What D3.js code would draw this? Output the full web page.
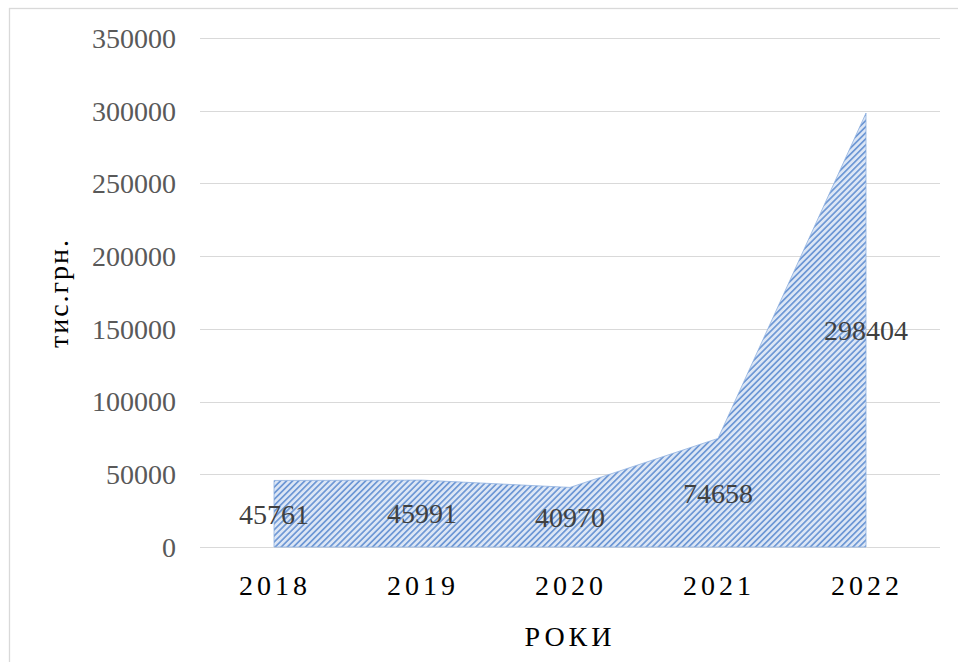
<!DOCTYPE html>
<meta charset="utf-8">
<style>
body { margin: 0; background: #fff; }
svg { display: block; }
.grid line { stroke: #d9d9d9; stroke-width: 1.3px; shape-rendering: crispEdges; }
.ytick { font: 28px "Liberation Serif", "Times New Roman", serif; fill: #595959; }
.xtick { font: 28px "Liberation Serif", "Times New Roman", serif; fill: #000; letter-spacing: 4px; }
.dlabel { font: 28px "Liberation Serif", "Times New Roman", serif; fill: #404040; }
.atitle { font: 28px "Liberation Serif", "Times New Roman", serif; fill: #000; }
</style>
<body>
<script src="https://d3js.org/d3.v7.min.js"></script>
<script>

var years = ["2018", "2019", "2020", "2021", "2022"];
var values = [45761, 45991, 40970, 74658, 298404];
var yTicks = [0, 50000, 100000, 150000, 200000, 250000, 300000, 350000];

var width = 958, height = 662;
var plot = {left: 200, right: 940, top: 38, bottom: 547};

var svg = d3.select("body").append("svg")
	.attr("width", width)
	.attr("height", height);

// outer chart border
svg.append("rect")
	.attr("x", 9.5).attr("y", 8.5)
	.attr("width", width + 20).attr("height", height + 20)
	.attr("fill", "none")
	.attr("stroke", "#d9d9d9")
	.attr("stroke-width", 1.3);

var x = d3.scaleBand()
	.domain(years)
	.range([plot.left, plot.right]);

var y = d3.scaleLinear()
	.domain([0, 350000])
	.range([plot.bottom, plot.top]);

// striped fill
var defs = svg.append("defs");
var pat = defs.append("pattern")
	.attr("id", "stripes")
	.attr("patternUnits", "userSpaceOnUse")
	.attr("width", 4.3).attr("height", 4.3)
	.attr("patternTransform", "rotate(45)");
pat.append("rect").attr("width", 4.3).attr("height", 4.3).attr("fill", "#dce6f5");
pat.append("rect").attr("width", 1.7).attr("height", 4.3).attr("fill", "#6e98d5");

// gridlines
svg.append("g").attr("class", "grid")
	.selectAll("line")
	.data(yTicks)
	.enter().append("line")
	.attr("x1", plot.left).attr("x2", plot.right)
	.attr("y1", function(d) { return Math.round(y(d)) + 0.5; })
	.attr("y2", function(d) { return Math.round(y(d)) + 0.5; });

// y tick labels
svg.selectAll(".ytick")
	.data(yTicks)
	.enter().append("text")
	.attr("class", "ytick")
	.attr("x", 176)
	.attr("y", function(d) { return y(d); })
	.attr("dy", "0.35em")
	.attr("text-anchor", "end")
	.text(function(d) { return d; });

var cx = function(d) { return x(d) + x.bandwidth() / 2; };

var area = d3.area()
	.x(function(d, i) { return cx(years[i]); })
	.y0(y(0))
	.y1(function(d) { return y(d); });

svg.append("path")
	.datum(values)
	.attr("d", area)
	.attr("fill", "url(#stripes)")
	.attr("stroke", "#8eb0e0")
	.attr("stroke-width", 0.8);

// data labels, centred in the area
svg.selectAll(".dlabel")
	.data(values)
	.enter().append("text")
	.attr("class", "dlabel")
	.attr("x", function(d, i) { return cx(years[i]); })
	.attr("y", function(d) { return y(d / 2); })
	.attr("dy", "0.35em")
	.attr("text-anchor", "middle")
	.text(function(d) { return d; });

// x tick labels
svg.selectAll(".xtick")
	.data(years)
	.enter().append("text")
	.attr("class", "xtick")
	.attr("x", function(d) { return cx(d) + 1; })
	.attr("y", 585)
	.attr("dy", "0.35em")
	.attr("text-anchor", "middle")
	.text(function(d) { return d; });

// axis titles
svg.append("text")
	.attr("class", "atitle")
	.attr("x", 570).attr("y", 636)
	.attr("dy", "0.35em")
	.attr("text-anchor", "middle")
	.style("letter-spacing", "4px")
	.text("РОКИ");

svg.append("text")
	.attr("class", "atitle")
	.attr("transform", "translate(58,293) rotate(-90)")
	.attr("dy", "0.35em")
	.attr("text-anchor", "middle")
	.style("letter-spacing", "2px")
	.text("тис.грн.");

</script>
